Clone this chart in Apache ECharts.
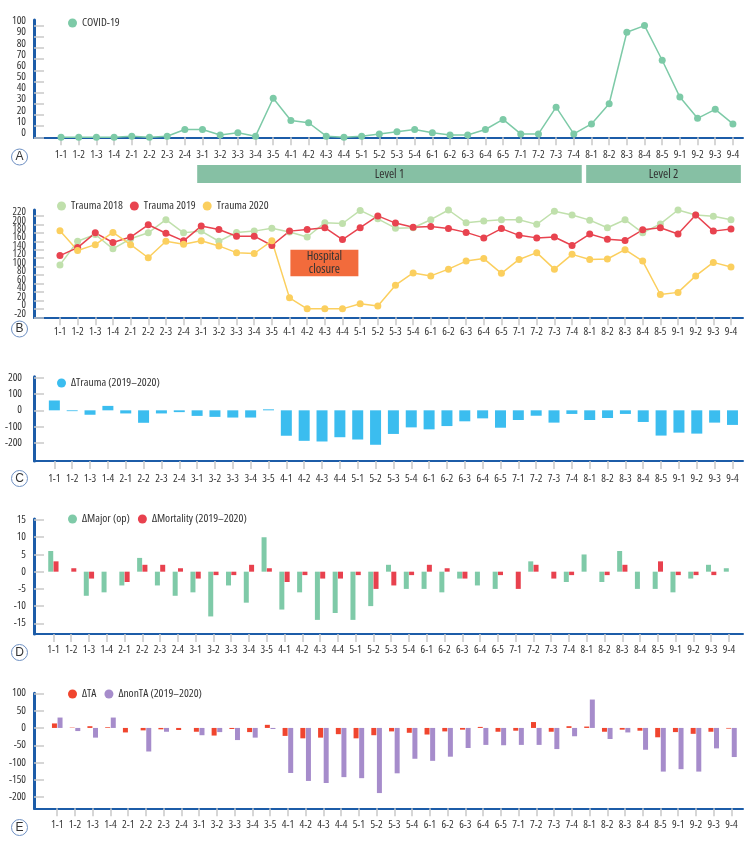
<!DOCTYPE html>
<html><head><meta charset="utf-8">
<script src="https://cdn.jsdelivr.net/npm/echarts@6/dist/echarts.min.js"></script>
<style>html,body{margin:0;padding:0;background:#fff}#c{width:755px;height:846px}</style>
</head><body><div id="c"></div>
<script>
// ---------- DATA ----------
const weeks = ['1-1','1-2','1-3','1-4','2-1','2-2','2-3','2-4','3-1','3-2','3-3','3-4','3-5','4-1','4-2','4-3','4-4','5-1','5-2','5-3','5-4','6-1','6-2','6-3','6-4','6-5','7-1','7-2','7-3','7-4','8-1','8-2','8-3','8-4','8-5','9-1','9-2','9-3','9-4'];
const covid = [0,0,0,0,1,0,1,7,7,2,4,1,35,15,13,1,0,1,3,5,7,4,2,2,7,16,3,3,27,3,12,30,94,100,69,36,17,25,12];
const trauma2018 = [104,160,176,142,166,180,211,180,184,160,181,184,191,182,170,204,202,233,213,191,192,211,234,204,208,211,211,200,231,222,210,192,211,180,201,234,222,219,211];
const trauma2019 = [126,145,180,157,170,199,179,161,196,188,172,172,150,184,188,192,164,192,220,203,193,195,190,181,168,190,174,168,170,150,177,165,162,187,192,177,222,184,189];
const trauma2020 = [185,138,152,181,152,121,160,153,161,149,133,131,161,26,0,0,0,12,7,56,85,78,94,113,119,84,117,133,94,129,117,118,140,113,34,39,78,110,99];
const dTrauma = [60,-5,-27,27,-19,-76,-19,-11,-34,-40,-44,-44,6,-155,-186,-190,-164,-178,-210,-144,-104,-116,-96,-67,-49,-106,-59,-33,-75,-22,-59,-47,-22,-71,-154,-136,-142,-75,-89];
const dMajor = [6,0,-7,-6,-4,4,-4,-7,-6,-13,-4,-9,10,-11,-6,-14,-12,-14,-10,2,-5,-5,-6,-2,-4,-5,0,3,0,-3,5,-3,6,-5,-5,-6,-2,2,1];
const dMortality = [3,1,-2,0,-3,2,2,1,-2,-1,-1,2,1,-3,-1,-2,-2,-1,-5,-4,-1,2,1,-2,0,-1,-5,2,-2,-1,0,-1,2,0,3,-1,-1,-1,0];
const dTA = [13,1,5,2,-13,-7,-4,-6,-11,-22,-3,-12,9,-23,-30,-28,-18,-30,-21,-10,-14,-19,-10,-5,3,-11,-8,17,-11,5,4,-11,-5,-8,-27,-12,-17,-11,-2];
const dNonTA = [30,-9,-28,30,0,-68,-11,0,-21,-12,-35,-28,-3,-130,-153,-159,-142,-145,-188,-131,-89,-95,-83,-58,-49,-50,-49,-49,-61,-24,82,-32,-13,-63,-126,-119,-126,-59,-84];
const levelNames = ['Level 1','Level 2'];
const levelStart = ['3-1','8-1'];
const levelEnd = ['7-4','9-4'];
const ticksA = [0,10,20,30,40,50,60,70,80,90,100];
const ticksB = [-20,0,20,40,60,80,100,120,140,160,180,200,220];
const ticksC = [-200,-100,0,100,200];
const ticksD = [-15,-10,-5,0,5,10,15];
const ticksE = [-200,-150,-100,-50,0,50,100];

// ---------- STYLE ----------
const FAM = '"Open Sans", "Roboto", sans-serif';
const TXT = {fontFamily: FAM, fontStyle: 'condensed', color: '#333'};
const BLUE = '#1c5ca8';
const TICK = '#c9c9c9';
const idx = weeks.map((_, i) => i);
const pairs = arr => arr.map((v, i) => [i, v]);

function xAx(grid, min, max, margin, show = true) {
  return {
    type: 'value', gridIndex: grid, min, max, show,
    axisLine: {show: true, onZero: false, lineStyle: {color: BLUE, width: 2}},
    axisTick: {show: true, customValues: idx, length: 8, lineStyle: {color: TICK, width: 1.5}},
    axisLabel: Object.assign({show: true, customValues: idx, formatter: v => weeks[Math.round(v)] || '', margin,
      fontSize: 11, hideOverlap: false, showMinLabel: true, showMaxLabel: true}, TXT),
    splitLine: {show: false}
  };
}
function yAx(grid, min, max, ticks, extra, labelVals, showLine = true) {
  return {
    type: 'value', gridIndex: grid, min, max, position: 'left', offset: 0,
    axisLine: {show: showLine, onZero: false, lineStyle: {color: BLUE, width: 3}},
    axisTick: {show: showLine, inside: true, customValues: ticks, length: 10, lineStyle: {color: TICK, width: 1.5}},
    axisLabel: Object.assign({show: true, customValues: labelVals || ticks, margin: 8, fontSize: 11,
      showMinLabel: true, showMaxLabel: true, hideOverlap: false}, TXT, extra || {}),
    splitLine: {show: false}
  };
}
const legendBase = {icon: 'circle', itemWidth: 9, itemHeight: 9, padding: 0, selectedMode: false,
  textStyle: Object.assign({fontSize: 11.5}, TXT)};

const GREEN = '#7dcaa7', L18 = '#c0e0ac', R19 = '#e8434f', Y20 = '#fbcf5e', SKY = '#3bbdef',
      GM = '#7fcaa8', RM = '#e8414e', RTA = '#f0452e', PUR = '#a68ccb', LEVEL = '#86c0a4';

const chart = echarts.init(document.getElementById('c'), null, {renderer: 'canvas'});
const letters = [['A',157],['B',329],['C',478.5],['D',652.5],['E',827.5]];
const graphic = [];
letters.forEach(([t, y]) => {
  graphic.push({type: 'circle', shape: {cx: 19.5, cy: y, r: 8}, style: {fill: '#fff', stroke: '#6d8fc2', lineWidth: 1}});
  graphic.push({type: 'text', x: 19.5, y: y, style: {text: t, align: 'center', verticalAlign: 'middle',
    font: '12px "Liberation Sans", Arial, sans-serif', fill: '#333'}});
});

const bLabelStyle = {verticalAlign: 'bottom', lineHeight: 7.5, fontSize: 10.5};
const option = {
  animation: false,
  grid: [
    {left: 34, right: 12, top: 20, height: 117.3},
    {left: 34, right: 12, top: 210, height: 107.3},
    {left: 34, right: 12, top: 376.7, height: 84.3},
    {left: 34, right: 12, top: 519, height: 115},
    {left: 34, right: 12, top: 693.3, height: 115},
    {left: 34, right: 12, top: 165, height: 18}
  ],
  xAxis: [
    xAx(0, -1.53, 38.57, 12),
    xAx(1, -1.47, 38.68, 9),
    xAx(2, -1.14, 38.59, 12),
    xAx(3, -1.09, 38.79, 10),
    xAx(4, -1.31, 38.65, 11),
    {type: 'value', gridIndex: 5, min: -1.53, max: 38.57, show: false}
  ],
  yAxis: [
    yAx(0, 0, 105, ticksA, {verticalAlign: 'bottom', lineHeight: 9}),
    yAx(1, -20, 234, ticksB, bLabelStyle, ticksB.filter((_, i) => i % 2 === 0)),
    yAx(2, -309, 205, ticksC, {margin: 12}),
    yAx(3, -18.1, 15.3, ticksD),
    yAx(4, -232, 100, ticksE),
    {type: 'value', gridIndex: 5, min: 0, max: 1, show: false},
    yAx(1, -20, 234, ticksB, bLabelStyle, ticksB.filter((_, i) => i % 2 === 1), false)
  ],
  legend: [
    Object.assign({}, legendBase, {data: ['COVID-19'], left: 68, top: 17}),
    Object.assign({}, legendBase, {data: ['Trauma 2018','Trauma 2019','Trauma 2020'], left: 57, top: 200, itemGap: 7}),
    Object.assign({}, legendBase, {data: ['ΔTrauma (2019–2020)'], left: 57, top: 377}),
    Object.assign({}, legendBase, {data: ['ΔMajor (op)','ΔMortality (2019–2020)'], left: 68, top: 513, itemGap: 8}),
    Object.assign({}, legendBase, {data: ['ΔTA','ΔnonTA (2019–2020)'], left: 68, top: 688, itemGap: 8})
  ],
  graphic,
  series: [
    {type: 'line', name: 'COVID-19', xAxisIndex: 0, yAxisIndex: 0, data: pairs(covid), clip: false,
      symbol: 'circle', symbolSize: 7, lineStyle: {width: 1.5, color: GREEN}, itemStyle: {color: GREEN}},
    {type: 'line', name: 'Trauma 2018', xAxisIndex: 1, yAxisIndex: 1, data: pairs(trauma2018), clip: false,
      symbol: 'circle', symbolSize: 7, lineStyle: {width: 1.5, color: L18}, itemStyle: {color: L18}},
    {type: 'line', name: 'Trauma 2019', xAxisIndex: 1, yAxisIndex: 1, data: pairs(trauma2019), clip: false,
      symbol: 'circle', symbolSize: 7, lineStyle: {width: 1.5, color: R19}, itemStyle: {color: R19}},
    {type: 'line', name: 'Trauma 2020', xAxisIndex: 1, yAxisIndex: 1, data: pairs(trauma2020), clip: false,
      symbol: 'circle', symbolSize: 7, lineStyle: {width: 1.5, color: Y20}, itemStyle: {color: Y20},
      markArea: {silent: true, itemStyle: {color: '#f26b3c', opacity: 1},
        label: Object.assign({show: true, position: 'inside', fontSize: 12.5, lineHeight: 13}, TXT),
        data: [[{name: 'Hospital\nclosure', xAxis: 13.05, yAxis: 140}, {xAxis: 16.9, yAxis: 77}]]}},
    {type: 'bar', name: 'ΔTrauma (2019–2020)', xAxisIndex: 2, yAxisIndex: 2, data: pairs(dTrauma),
      barWidth: 11, itemStyle: {color: SKY}},
    {type: 'bar', name: 'ΔMajor (op)', xAxisIndex: 3, yAxisIndex: 3, data: pairs(dMajor),
      barWidth: 5, barGap: '6%', itemStyle: {color: GM}},
    {type: 'bar', name: 'ΔMortality (2019–2020)', xAxisIndex: 3, yAxisIndex: 3, data: pairs(dMortality),
      barWidth: 5, barGap: '6%', itemStyle: {color: RM}},
    {type: 'bar', name: 'ΔTA', xAxisIndex: 4, yAxisIndex: 4, data: pairs(dTA),
      barWidth: 5, barGap: '12%', itemStyle: {color: RTA}},
    {type: 'bar', name: 'ΔnonTA (2019–2020)', xAxisIndex: 4, yAxisIndex: 4, data: pairs(dNonTA),
      barWidth: 5, barGap: '12%', itemStyle: {color: PUR}},
    {type: 'custom', name: 'levels', xAxisIndex: 5, yAxisIndex: 5, silent: true,
      data: levelNames.map((n, i) => [weeks.indexOf(levelStart[i]) - 0.3, weeks.indexOf(levelEnd[i]) + 0.45]),
      encode: {x: [0, 1]},
      renderItem(params, api) {
        const p0 = api.coord([api.value(0), 1]);
        const p1 = api.coord([api.value(1), 0]);
        return {type: 'rect', shape: {x: p0[0], y: p0[1], width: p1[0] - p0[0], height: p1[1] - p0[1]},
          style: {fill: LEVEL},
          textContent: {style: {text: levelNames[params.dataIndex], fill: '#333', font: 'condensed 12.5px ' + FAM}},
          textConfig: {position: 'inside'}};
      }}
  ]
};
chart.setOption(option);
</script></body></html>
